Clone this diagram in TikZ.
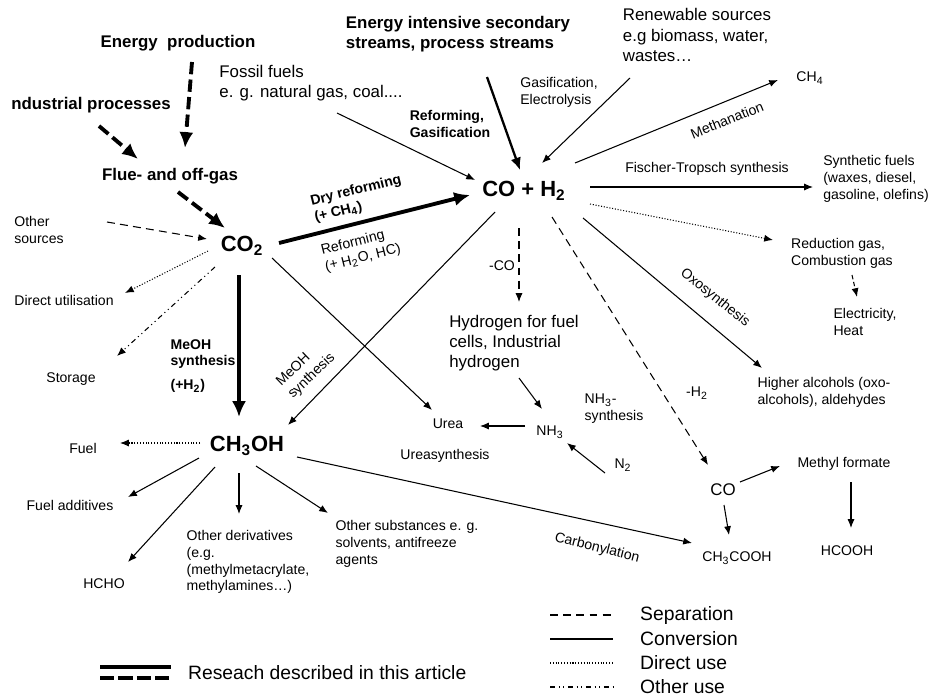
\documentclass[tikz,border=0pt]{standalone}
\usepackage{fontspec}
\setmainfont{Liberation Sans}
\usetikzlibrary{positioning, arrows.meta, calc}

\begin{document}
\begin{tikzpicture}[
    x=0.02cm, y=-0.02cm,
    every node/.style={inner sep=1pt, align=left},
    small/.style={font=\fontsize{8}{9.6}\selectfont},
    smallbf/.style={font=\fontsize{8}{9.6}\selectfont\bfseries},
    medium/.style={font=\fontsize{9.6}{11.5}\selectfont},
    head/.style={font=\fontsize{9.6}{11.5}\selectfont\bfseries},
    big/.style={font=\fontsize{12.5}{15}\selectfont\bfseries},
    legendtext/.style={font=\fontsize{11}{13}\selectfont, anchor=west},
    convline/.style={-{Latex[length=5pt, width=4pt]}, line width=0.6pt},
    sepline/.style={convline, dash pattern=on 4.5pt off 3pt},
    directline/.style={convline, densely dotted},
    otherline/.style={convline, dash dot dot},
    resline/.style={-{Latex[length=9pt, width=8pt]}, line width=2.2pt},
    resdash/.style={resline, dash pattern=on 7pt off 3pt}
]
\useasboundingbox (0,0) rectangle (929,697);

% sources
\node[head] (ep) at (178,43) {Energy\ \ production};
\node[head] (ip) at (91,105) {ndustrial processes};
\node[head] (flue) at (170,176) {Flue- and off-gas};
\node[head] (eis) at (458,34) {Energy intensive secondary\\streams, process streams};
\node[medium] (fossil) at (311,83) {Fossil fuels\\e. g. natural gas, coal....};
\node[smallbf] (refgas) at (450,124) {Reforming,\\Gasification};
\node[small] (gaselec) at (559,92) {Gasification,\\Electrolysis};
\node[medium] (renew) at (697,35) {Renewable sources\\e.g biomass, water,\\wastes…};
\node[small] (othsrc) at (39,230) {Other\\sources};

% main species
\node[big] (co2) at (242,246) {CO\textsubscript{2}};
\node[big] (coh2) at (524,191) {CO + H\textsubscript{2}};
\node[big] (ch3oh) at (247,446) {CH\textsubscript{3}OH};

% products of syngas
\node[small] (ch4) at (810,78) {CH\textsubscript{4}};
\node[small, rotate=22] (methan) at (727,120) {Methanation};
\node[small] (ft) at (707,169) {Fischer-Tropsch synthesis};
\node[small] (synfuel) at (876,179) {Synthetic fuels\\(waxes, diesel,\\gasoline, olefins)};
\node[small] (redgas) at (842,253) {Reduction gas,\\Combustion gas};
\node[small] (elec) at (865,322) {Electricity,\\Heat};
\node[small, rotate=-39] (oxo) at (715,298) {Oxosynthesis};
\node[small] (higher) at (824,392) {Higher alcohols (oxo-\\alcohols), aldehydes};
\node[small] (minush2) at (697,393) {-H\textsubscript{2}};
\node[small] (minusco) at (502,266) {-CO};
\node[medium] (hyd) at (514,343) {Hydrogen for fuel\\cells, Industrial\\hydrogen};
\node[small] (nh3) at (550,432) {NH\textsubscript{3}};
\node[small] (nh3syn) at (614,409) {NH\textsubscript{3}-\\synthesis};
\node[small] (n2) at (623,465) {N\textsubscript{2}};
\node[small] (urea) at (448,424) {Urea};
\node[small] (ureasyn) at (445,456) {Ureasynthesis};
\node[medium] (cor) at (723,490) {CO};
\node[small] (mf) at (844,464) {Methyl formate};
\node[small] (acetic) at (737,558) {CH\textsubscript{3}COOH};
\node[small] (hcooh) at (847,551) {HCOOH};

% CO2 routes
\node[smallbf, rotate=14] (dryref) at (358,199) {Dry reforming\\(+ CH\textsubscript{4})};
\node[small, rotate=14] (reform) at (361,250) {Reforming\\(+ H\textsubscript{2}O, HC)};
\node[small] (dirutil) at (64,300) {Direct utilisation};
\node[small] (storage) at (71,379) {Storage};
\node[smallbf] (meohsyn) at (203,366) {MeOH\\synthesis\\[4pt](+H\textsubscript{2})};
\node[small, rotate=44] (meohsyn2) at (306,370) {MeOH\\synthesis};

% methanol products
\node[small] (fuel) at (83,448) {Fuel};
\node[small] (fueladd) at (70,505) {Fuel additives};
\node[small] (hcho) at (104,584) {HCHO};
\node[small] (othder) at (248,562) {Other derivatives\\(e.g.\\(methylmetacrylate,\\methylamines…)};
\node[small] (othsub) at (407,544) {Other substances e. g.\\solvents, antifreeze\\agents};
\node[small, rotate=-14] (carbonyl) at (597,548) {Carbonylation};

% research described
\draw[resdash] ($(ep)+(14,19)$) -- ($(flue)+(15,-28)$);
\draw[resdash] ($(ip)+(8,21)$) -- ($(flue)+(-32,-17)$);
\draw[resdash] ($(flue)+(8,16)$) -- ($(co2)+(-17,-18)$);
\draw[resline] ($(co2)+(37,-3)$) -- ($(coh2)+(-54,4)$);
\draw[resline] ($(co2)+(-3,29)$) -- ($(ch3oh)+(-8,-29)$);

% into CO2 and CO + H2
\draw[sepline] ($(othsrc)+(68,-8)$) -- ($(co2)+(-35,-7)$);
\draw[convline] ($(fossil)+(26,30)$) -- ($(coh2)+(-49,-11)$);
\draw[convline, line width=1.3pt, -{Latex[length=7pt, width=6pt]}] ($(eis)+(29,43)$) -- ($(coh2)+(-4,-21)$);
\draw[convline] ($(renew)+(-67,43)$) -- ($(coh2)+(18,-28)$);

% out of CO2
\draw[directline] ($(co2)+(-34,5)$) -- ($(dirutil)+(61,-7)$);
\draw[otherline] ($(co2)+(-27,21)$) -- ($(storage)+(46,-23)$);
\draw[convline] ($(co2)+(30,12)$) -- ($(urea)+(-16,-14)$);

% out of CO + H2
\draw[convline] ($(coh2)+(51,-28)$) -- ($(ch4)+(-32,2)$);
\draw[convline] ($(coh2)+(66,-4)$) -- ($(synfuel)+(-63,8)$);
\draw[directline] ($(coh2)+(66,13)$) -- ($(redgas)+(-69,-13)$);
\draw[convline, dash pattern=on 2.5pt off 1.5pt] ($(redgas)+(10,22)$) -- ($(elec)+(-8,-25)$);
\draw[convline] ($(coh2)+(59,27)$) -- ($(higher)+(-62,-24)$);
\draw[sepline] ($(coh2)+(28,26)$) -- ($(cor)+(-15,-25)$);
\draw[convline] ($(coh2)+(-29,21)$) -- ($(ch3oh)+(41,-21)$);
\draw[sepline] ($(coh2)+(-5,37)$) -- ($(hyd)+(5,-41)$);
\draw[convline] ($(hyd)+(5,35)$) -- ($(nh3)+(-8,-23)$);
\draw[convline] ($(nh3)+(-25,-6)$) -- ($(urea)+(32,2)$);
\draw[convline] ($(n2)+(-18,8)$) -- ($(nh3)+(17,11)$);
\draw[convline] ($(cor)+(17,-8)$) -- ($(mf)+(-64,2)$);
\draw[convline] ($(cor)+(1,15)$) -- ($(acetic)+(-8,-23)$);
\draw[convline] ($(mf)+(7,18)$) -- ($(hcooh)+(4,-23)$);

% out of CH3OH
\draw[convline] ($(ch3oh)+(50,11)$) -- ($(acetic)+(-45,-15)$);
\draw[directline] ($(ch3oh)+(-47,-3)$) -- ($(fuel)+(37,-5)$);
\draw[convline] ($(ch3oh)+(-48,12)$) -- ($(fueladd)+(58,-8)$);
\draw[convline] ($(ch3oh)+(-32,21)$) -- ($(hcho)+(24,-22)$);
\draw[convline] ($(ch3oh)+(-8,27)$) -- ($(othder)+(-9,-48)$);
\draw[convline] ($(ch3oh)+(9,20)$) -- ($(othsub)+(-79,-31)$);

% legend
\node[legendtext] (lres) at (186,673) {Reseach described in this article};
\node[legendtext] (lsep) at (638,615) {Separation};
\node[legendtext] (lconv) at (638,639) {Conversion};
\node[legendtext] (ldir) at (638,663) {Direct use};
\node[legendtext] (loth) at (638,687) {Other use};
\draw[line width=2.2pt] ($(lres.west)+(-86,-6)$) -- ($(lres.west)+(-15,-6)$);
\draw[line width=2.2pt, dash pattern=on 8pt off 2.5pt] ($(lres.west)+(-86,5)$) -- ($(lres.west)+(-15,5)$);
\draw[line width=0.6pt, dash pattern=on 4.5pt off 3pt] ($(lsep.west)+(-88,0)$) -- ($(lsep.west)+(-25,0)$);
\draw[line width=0.6pt] ($(lconv.west)+(-88,0)$) -- ($(lconv.west)+(-25,0)$);
\draw[line width=0.6pt, densely dotted] ($(ldir.west)+(-88,0)$) -- ($(ldir.west)+(-25,0)$);
\draw[line width=0.6pt, dash dot dot] ($(loth.west)+(-88,0)$) -- ($(loth.west)+(-25,0)$);
\end{tikzpicture}
\end{document}
